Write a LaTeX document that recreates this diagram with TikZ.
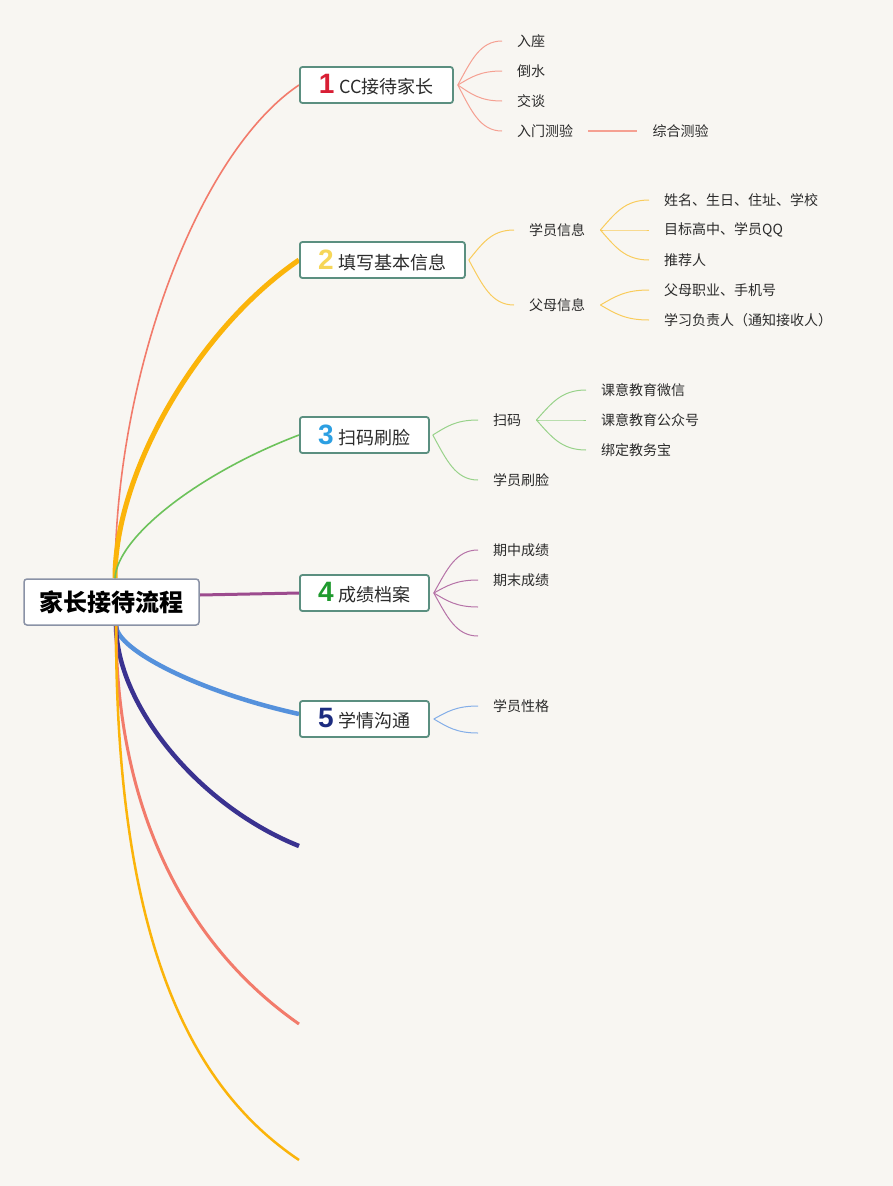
\documentclass[tikz,border=0pt]{standalone}
\usepackage{fontspec}
\setmainfont{Noto Sans CJK SC}
\newfontfamily\numfont{Liberation Sans}
\usetikzlibrary{calc,backgrounds}
\definecolor{bgc}{HTML}{F8F6F2}
\definecolor{rootc}{HTML}{8A92A6}
\definecolor{boxc}{HTML}{5B8F80}
\definecolor{txtc}{HTML}{2B2B2B}
\definecolor{colA}{HTML}{F27B6B}
\definecolor{colAl}{HTML}{F5A092}
\definecolor{colB}{HTML}{FBB40A}
\definecolor{colBl}{HTML}{F9CC5C}
\definecolor{colC}{HTML}{6CC25A}
\definecolor{colCl}{HTML}{98D28A}
\definecolor{colD}{HTML}{9C4B8E}
\definecolor{colDl}{HTML}{B673A8}
\definecolor{colE}{HTML}{5591DC}
\definecolor{colEl}{HTML}{84AEE8}
\definecolor{colF}{HTML}{3A3290}
\definecolor{numA}{HTML}{D81E34}
\definecolor{numB}{HTML}{F6D658}
\definecolor{numC}{HTML}{2C9FE2}
\definecolor{numD}{HTML}{1F9A2E}
\definecolor{numE}{HTML}{1C2C80}
\newcommand\mknum[2]{{\numfont\bfseries\fontsize{28}{28}\selectfont\color{#1}#2}\hspace{5pt}}
\tikzset{
  rootbox/.style={draw=rootc, line width=1.5pt, rounded corners=3pt, fill=white,
    minimum width=175pt, minimum height=46pt, inner sep=0pt, text=black,
    font=\bfseries\fontsize{24}{24}\selectfont},
  mainbox/.style={draw=boxc, line width=1.8pt, rounded corners=2.5pt, fill=white,
    minimum height=36pt, inner sep=0pt, anchor=west, text=txtc,
    font=\fontsize{18}{18}\selectfont},
  sub/.style={anchor=west, inner xsep=15pt, inner ysep=2pt, text=txtc,
    font=\fontsize{14}{14}\selectfont},
  thin/.style={line width=1pt},
}
\newcommand\subcurve[3]{%
  \draw[#1] (#2) let \p1=(#2), \p2=(#3) in
    .. controls ({\x1+0.3*(\x2-\x1)},{\y1+0.55*(\y2-\y1)}) and ({\x1+0.5*(\x2-\x1)},{\y2}) .. (#3);}
\begin{document}
\begin{tikzpicture}[x=1pt,y=-1pt]
\useasboundingbox (0,0) rectangle (893,1186);
% root
\node[rootbox] (root) at (111.5,602) {家长接待流程};
% main nodes
\node[mainbox, minimum width=153pt] (n1) at (299,85) {\mknum{numA}{1}CC接待家长};
\node[mainbox, minimum width=165pt] (n2) at (299,260) {\mknum{numB}{2}填写基本信息};
\node[mainbox, minimum width=129pt] (n3) at (299,435) {\mknum{numC}{3}扫码刷脸};
\node[mainbox, minimum width=129pt] (n4) at (299,593) {\mknum{numD}{4}成绩档案};
\node[mainbox, minimum width=129pt] (n5) at (299,719) {\mknum{numE}{5}学情沟通};
\coordinate (e6) at (299,846);
\coordinate (e7) at (299,1024);
\coordinate (e8) at (299,1160);
% branch 1
\node[sub] (a1) at (502,41) {入座};
\node[sub] (a2) at (502,71) {倒水};
\node[sub] (a3) at (502,101) {交谈};
\node[sub] (a4) at (502,131) {入门测验};
\node[sub] (a5) at ($(a4.east)+(49,0)$) {综合测验};
% branch 2
\node[sub] (b1) at (514,230) {学员信息};
\node[sub] (b2) at (514,305) {父母信息};
\node[sub] (b11) at (649,200) {姓名、生日、住址、学校};
\node[sub] (b12) at (649,230) {目标高中、学员QQ};
\node[sub] (b13) at (649,260) {推荐人};
\node[sub] (b21) at (649,290) {父母职业、手机号};
\node[sub] (b22) at (649,320) {学习负责人（通知接收人）};
% branch 3
\node[sub] (c1) at (478,420) {扫码};
\node[sub] (c2) at (478,480) {学员刷脸};
\node[sub] (c11) at (586,390) {课意教育微信};
\node[sub] (c12) at (586,420) {课意教育公众号};
\node[sub] (c13) at (586,450) {绑定教务宝};
% branch 4
\node[sub] (d1) at (478,550) {期中成绩};
\node[sub] (d2) at (478,580) {期末成绩};
\coordinate (d3) at (478,607);
\coordinate (d4) at (478,636);
% branch 5
\node[sub] (f1) at (478,706) {学员性格};
\coordinate (f2) at (478,733);
\begin{scope}[on background layer]
\fill[bgc] (0,0) rectangle (893,1186);
\coordinate (rt) at ($(root.north)+(3.5,0)$);
\coordinate (rb) at ($(root.south)+(4.5,0)$);
\draw[colA, line width=1.6pt] (rt) .. controls (115,375) and (198,153) .. (n1.west);
\draw[colB, line width=5pt] (rt) .. controls (115,472) and (198,329) .. (n2.west);
\draw[colC, line width=1.6pt] (rt) .. controls (117,537) and (199,473) .. (n3.west);
\draw[colD, line width=3pt] ($(root.east)+(0,-7)$) -- (n4.west);
\draw[colE, line width=4.5pt] (rb) .. controls (117,650) and (199,692) .. ($(n5.west)+(0,-5)$);
\draw[colF, line width=4.5pt] (rb) .. controls (117,706) and (199,806) .. (e6);
\draw[colA, line width=3pt] (rb) .. controls (116,801) and (180,941) .. (e7);
\draw[colB, line width=2.5pt] (rb) .. controls (116,950) and (195,1090) .. (e8);
% sub connectors
\coordinate (s1) at ($(n1.east)+(4,0)$);
\foreach \t in {a1,a2,a3,a4}{\subcurve{colAl,thin}{s1}{\t.west}}
\draw[colAl,line width=1.4pt] (a4.east) -- (a5.west);
\coordinate (s2) at ($(n2.east)+(3,0)$);
\foreach \t in {b1,b2}{\subcurve{colBl,thin}{s2}{\t.west}}
\foreach \t in {b11,b12,b13}{\subcurve{colBl,thin}{b1.east}{\t.west}}
\foreach \t in {b21,b22}{\subcurve{colBl,thin}{b2.east}{\t.west}}
\coordinate (s3) at ($(n3.east)+(3,0)$);
\foreach \t in {c1,c2}{\subcurve{colCl,thin}{s3}{\t.west}}
\foreach \t in {c11,c12,c13}{\subcurve{colCl,thin}{c1.east}{\t.west}}
\coordinate (s4) at ($(n4.east)+(4,0)$);
\foreach \t in {d1.west,d2.west,d3,d4}{\subcurve{colDl,thin}{s4}{\t}}
\coordinate (s5) at ($(n5.east)+(4,0)$);
\foreach \t in {f1.west,f2}{\subcurve{colEl,thin}{s5}{\t}}
\end{scope}
\end{tikzpicture}
\end{document}
